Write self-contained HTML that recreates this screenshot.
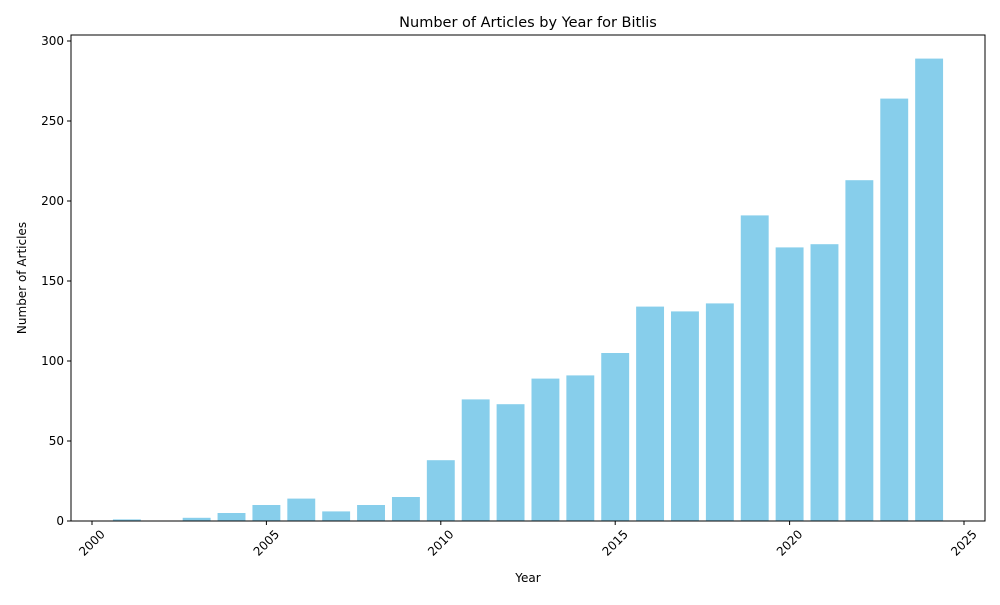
<!DOCTYPE html>
<html><head><meta charset="utf-8"><style>
body{margin:0;background:#fff;font-family:"Liberation Sans","DejaVu Sans",sans-serif;}
text{font-family:"DejaVu Sans","Liberation Sans",sans-serif;}
</style></head><body>
<svg id="chart" width="1000" height="600" xmlns="http://www.w3.org/2000/svg">
<rect width="1000" height="600" fill="#fff"/>
<text x="528" y="27" text-anchor="middle" font-size="14.5">Number of Articles by Year for Bitlis</text>
<g id="bars"></g>
<g id="axes"></g>
<text x="528" y="582" text-anchor="middle" font-size="12">Year</text>
<text transform="translate(26,278) rotate(-90)" text-anchor="middle" font-size="12">Number of Articles</text>
</svg>
<script>
const years=[2001,2002,2003,2004,2005,2006,2007,2008,2009,2010,2011,2012,2013,2014,2015,2016,2017,2018,2019,2020,2021,2022,2023,2024];
const counts=[1,0,2,5,10,14,6,10,15,38,76,73,89,91,105,134,131,136,191,171,173,213,264,289];
const xTicks=[2000,2005,2010,2015,2020,2025];
const yTicks=[0,50,100,150,200,250,300];
const NS="http://www.w3.org/2000/svg";
const L=71,R=985,T=35,B=521;
const x=v=>92+(v-2000)*(964-92)/25;
const y=v=>521-v*(521-41)/300;
const bw=(x(1)-x(0))*0.8;
const bars=document.getElementById('bars'),axes=document.getElementById('axes');
function mk(t,a,p){const e=document.createElementNS(NS,t);for(const k in a)e.setAttribute(k,a[k]);p.appendChild(e);return e;}
years.forEach((yr,i)=>{
 const r=mk('rect',{x:x(yr)-bw/2,y:y(counts[i]),width:bw,height:y(0)-y(counts[i]),fill:'#87ceeb'},bars);
 
 
});
const f=mk('rect',{x:L,y:T,width:R-L,height:B-T,fill:'none',stroke:'#000','stroke-width':1},axes);


xTicks.forEach(t=>{
 mk('line',{x1:x(t),x2:x(t),y1:B,y2:B+4,stroke:'#000'},axes);
 const tx=mk('text',{x:0,y:4,'font-size':12,'text-anchor':'middle',transform:`translate(${x(t)},${B+22}) rotate(-45)`},axes);
 tx.textContent=t;
 
 
});
yTicks.forEach(t=>{
 mk('line',{x1:L-4,x2:L,y1:y(t),y2:y(t),stroke:'#000'},axes);
 const tx=mk('text',{x:L-7,y:y(t)+4,'font-size':12,'text-anchor':'end'},axes);
 tx.textContent=t;
 
 
});
</script>
</body></html>
